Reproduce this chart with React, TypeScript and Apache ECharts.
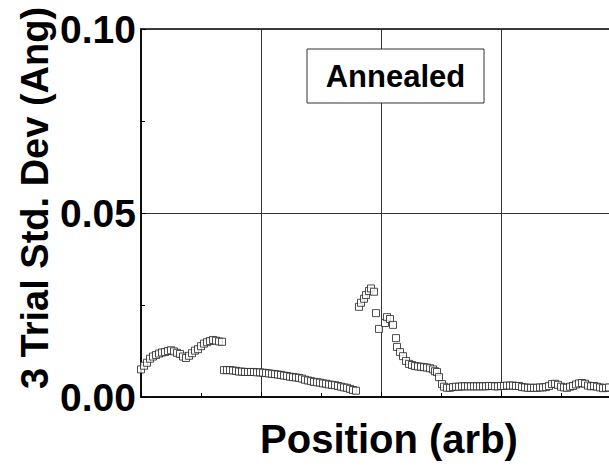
import React, { useEffect, useRef } from "react";
import * as echarts from "echarts";

// Position (arb) and 3-trial std. dev (Ang)
const seg1Pos = [0, 3, 6, 9, 12, 15, 18, 21, 24, 27, 30, 33, 36, 39, 42, 45, 48, 51, 54, 57, 60, 63, 66, 69, 72, 75, 78, 81];
const seg1Val = [0.0075, 0.0085, 0.0093, 0.0104, 0.011, 0.0114, 0.0118, 0.0121, 0.0122, 0.0125, 0.0127, 0.0124, 0.012, 0.0117, 0.011, 0.0106, 0.0112, 0.0119, 0.0126, 0.013, 0.0138, 0.0145, 0.0149, 0.0152, 0.0155, 0.0153, 0.0151, 0.015];

const seg2Pos = [83, 86, 89, 92, 95, 98, 101, 104, 107, 110, 113, 116, 119, 122, 125, 128, 131, 134, 137, 140, 143, 146, 149, 152, 155, 158, 161, 164, 167, 170, 173, 176, 179, 182, 185, 188, 191, 194, 197, 200, 203, 206, 209, 212, 215];
const seg2Val = [0.0073, 0.0073, 0.0073, 0.0072, 0.0071, 0.0069, 0.0069, 0.0068, 0.0068, 0.0068, 0.0068, 0.0067, 0.0067, 0.0066, 0.0065, 0.0064, 0.0063, 0.0062, 0.0061, 0.006, 0.0058, 0.0057, 0.0055, 0.0054, 0.0053, 0.0052, 0.005, 0.0047, 0.0045, 0.0043, 0.0041, 0.004, 0.0039, 0.0037, 0.0036, 0.0034, 0.0033, 0.0032, 0.003, 0.0028, 0.0026, 0.0025, 0.0022, 0.0019, 0.0017];

const seg3Pos = [218, 220, 223, 225, 228, 230, 233, 235, 238, 244, 246, 249, 252, 255, 256, 259, 262, 265, 268, 271, 274, 277, 280, 283, 286, 289, 292, 294, 296, 298, 301, 303, 306];
const seg3Val = [0.0245, 0.0256, 0.0267, 0.0277, 0.0288, 0.0295, 0.0286, 0.0228, 0.0185, 0.0201, 0.0217, 0.0212, 0.0196, 0.016, 0.0136, 0.0122, 0.0111, 0.0098, 0.009, 0.0087, 0.0084, 0.0083, 0.0082, 0.0081, 0.008, 0.0078, 0.0075, 0.007, 0.0068, 0.0054, 0.0035, 0.0028, 0.0025];

const seg4Pos = [309, 312, 315, 318, 321, 324, 327, 330, 333, 336, 339, 342, 345, 348, 351, 354, 357, 360, 363, 366, 369, 372, 375, 378, 381, 384, 387, 390, 393, 396, 399, 402, 405, 408, 411, 414, 417, 420, 423, 426, 429, 432, 435, 438, 441, 444, 447, 450, 453, 456, 459, 462, 465, 468];
const seg4Val = [0.0025, 0.0027, 0.0028, 0.0028, 0.0029, 0.0029, 0.0029, 0.0029, 0.0029, 0.0029, 0.0029, 0.0029, 0.0029, 0.003, 0.003, 0.0029, 0.0029, 0.003, 0.003, 0.0031, 0.0031, 0.0031, 0.003, 0.003, 0.0027, 0.0026, 0.0025, 0.0025, 0.0025, 0.0025, 0.0026, 0.0026, 0.0027, 0.003, 0.0035, 0.0036, 0.0033, 0.0028, 0.0026, 0.0025, 0.0028, 0.003, 0.0034, 0.0037, 0.0038, 0.0036, 0.0031, 0.0029, 0.003, 0.0028, 0.0026, 0.0024, 0.0025, 0.0026];

const yTicks = [0, 0.05, 0.1];
const xTitle = "Position (arb)";
const yTitle = "3 Trial Std. Dev (Ang)";
const noteText = "Annealed";

const FONT = "'Liberation Sans', Arial, Helvetica, sans-serif";

export default function App() {
  const ref = useRef<HTMLDivElement>(null);
  useEffect(() => {
    if (!ref.current) return;
    const chart = echarts.init(ref.current, null, { renderer: "svg" });
    const pos = [...seg1Pos, ...seg2Pos, ...seg3Pos, ...seg4Pos];
    const val = [...seg1Val, ...seg2Val, ...seg3Val, ...seg4Val];
    const data = pos.map((p, i) => [p, val[i]]);
    chart.setOption({
      animation: false,
      backgroundColor: "#ffffff",
      grid: {
        left: 141,
        top: 29,
        width: 480,
        bottom: 70,
        show: true,
        borderColor: "#000",
        borderWidth: 1.5,
        backgroundColor: "transparent",
      },
      xAxis: {
        type: "value",
        min: 0,
        max: 480,
        interval: 120,
        axisLine: { show: true, lineStyle: { color: "#000", width: 1.5 } },
        axisTick: { show: true, inside: true, length: 5, lineStyle: { color: "#000" } },
        minorTick: { show: true, splitNumber: 2, length: 4, lineStyle: { color: "#000" } },
        axisLabel: { show: false },
        splitLine: { show: true, lineStyle: { color: "#333", width: 1 } },
      },
      yAxis: {
        type: "value",
        min: yTicks[0],
        max: yTicks[yTicks.length - 1],
        interval: 0.05,
        axisLine: { show: true, lineStyle: { color: "#000", width: 1.5 } },
        axisTick: { show: true, inside: true, length: 5, lineStyle: { color: "#000" } },
        minorTick: { show: true, splitNumber: 2, length: 4, lineStyle: { color: "#000" } },
        axisLabel: {
          margin: 5,
          color: "#000",
          fontSize: 39,
          fontWeight: "bold",
          fontFamily: FONT,
          formatter: (v: number) => v.toFixed(2),
        },
        splitLine: { show: true, lineStyle: { color: "#333", width: 1 } },
      },
      graphic: [
        {
          type: "text",
          x: 35,
          y: 198,
          rotation: Math.PI / 2,
          style: {
            text: yTitle,
            fill: "#000",
            font: `bold 38px ${FONT}`,
            textAlign: "center",
            textVerticalAlign: "middle",
          },
        },
        {
          type: "text",
          x: 389,
          y: 439,
          style: {
            text: xTitle,
            fill: "#000",
            font: `bold 40px ${FONT}`,
            textAlign: "center",
            textVerticalAlign: "middle",
          },
        },
        {
          type: "rect",
          shape: { x: 307, y: 49, width: 177, height: 54 },
          style: { fill: "#fff", stroke: "#333", lineWidth: 1 },
          z: 10,
        },
        {
          type: "text",
          x: 395.5,
          y: 76,
          z: 11,
          style: {
            text: noteText,
            fill: "#000",
            font: `bold 31px ${FONT}`,
            textAlign: "center",
            textVerticalAlign: "middle",
          },
        },
      ],
      series: [
        {
          type: "scatter",
          data,
          symbol: "rect",
          symbolSize: 7,
          itemStyle: { color: "#fff", borderColor: "#222", borderWidth: 1 },
          clip: false,
        },
      ],
    });
    return () => chart.dispose();
  }, []);
  return (
    <div
      style={{ position: "fixed", left: 0, top: 0, width: 609, height: 467, overflow: "hidden", background: "#fff" }}
    >
      <div ref={ref} style={{ width: 640, height: 467 }} />
    </div>
  );
}
